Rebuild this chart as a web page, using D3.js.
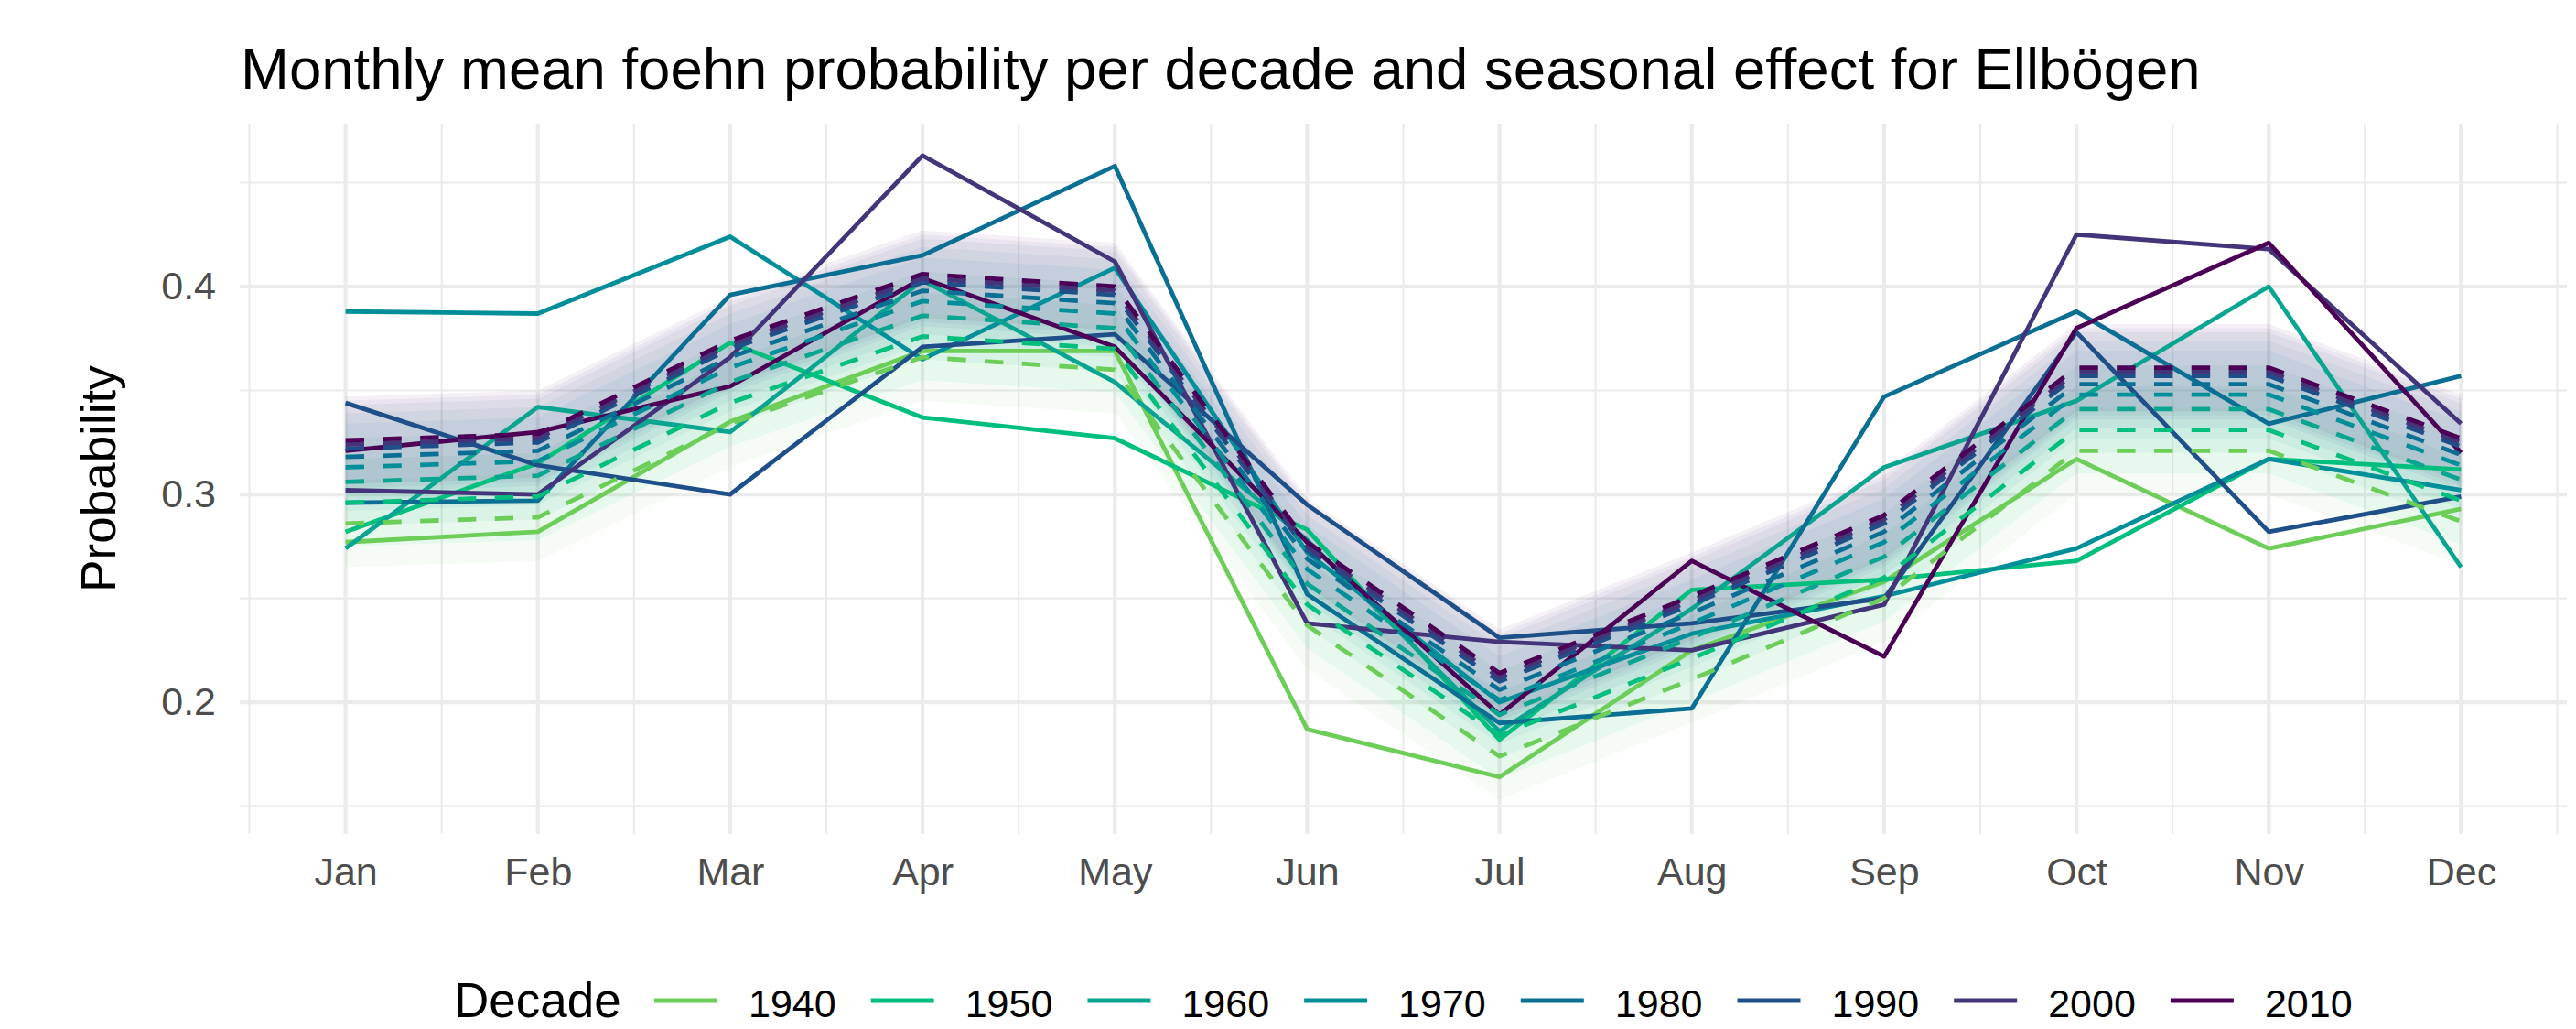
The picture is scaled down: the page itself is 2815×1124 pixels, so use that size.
<!DOCTYPE html>
<html>
<head>
<meta charset="utf-8">
<script src="https://cdn.jsdelivr.net/npm/d3@7"></script>
<style>
  body { margin: 0; background: #fff; }
  text { font-family: "Liberation Sans", Arial, Helvetica, sans-serif; }
</style>
</head>
<body>
<svg id="chart" width="2815" height="1124"></svg>
<script>
// x axis: months
const months = ['Jan', 'Feb', 'Mar', 'Apr', 'May', 'Jun', 'Jul', 'Aug', 'Sep', 'Oct', 'Nov', 'Dec'];

// legend / series
const decades = ['1940', '1950', '1960', '1970', '1980', '1990', '2000', '2010'];
const decadeColors = ['#6DCD59', '#00BF7D', '#0AA590', '#008F99', '#0A6F92', '#1F4F88', '#44357A', '#4B0055'];

// monthly mean foehn probability per decade (solid lines)
const obs1940 = [0.277, 0.282, 0.335, 0.369, 0.369, 0.187, 0.164, 0.225, 0.258, 0.317, 0.274, 0.293];
const obs1950 = [0.282, 0.315, 0.373, 0.337, 0.327, 0.283, 0.182, 0.254, 0.259, 0.268, 0.317, 0.312];
const obs1960 = [0.274, 0.342, 0.330, 0.403, 0.354, 0.278, 0.186, 0.245, 0.313, 0.345, 0.400, 0.265];
const obs1970 = [0.388, 0.387, 0.424, 0.365, 0.409, 0.272, 0.200, 0.233, 0.251, 0.274, 0.317, 0.302];
const obs1980 = [0.296, 0.297, 0.396, 0.415, 0.458, 0.252, 0.190, 0.197, 0.347, 0.388, 0.334, 0.357];
const obs1990 = [0.344, 0.314, 0.300, 0.371, 0.377, 0.295, 0.231, 0.238, 0.250, 0.378, 0.282, 0.299];
const obs2000 = [0.302, 0.300, 0.366, 0.463, 0.412, 0.238, 0.229, 0.225, 0.247, 0.425, 0.418, 0.334];
const obs2010 = [0.321, 0.330, 0.352, 0.404, 0.371, 0.277, 0.194, 0.268, 0.222, 0.380, 0.421, 0.320];

// seasonal effect per decade (dashed lines)
const eff1940 = [0.286, 0.289, 0.334, 0.366, 0.360, 0.237, 0.174, 0.211, 0.250, 0.321, 0.321, 0.287];
const eff1950 = [0.296, 0.299, 0.344, 0.376, 0.370, 0.247, 0.184, 0.221, 0.260, 0.331, 0.331, 0.297];
const eff1960 = [0.306, 0.309, 0.354, 0.386, 0.380, 0.257, 0.194, 0.231, 0.270, 0.341, 0.341, 0.307];
const eff1970 = [0.313, 0.316, 0.361, 0.393, 0.387, 0.264, 0.201, 0.238, 0.277, 0.348, 0.348, 0.314];
const eff1980 = [0.318, 0.321, 0.366, 0.398, 0.392, 0.269, 0.206, 0.243, 0.282, 0.353, 0.353, 0.319];
const eff1990 = [0.322, 0.325, 0.370, 0.402, 0.396, 0.273, 0.210, 0.247, 0.286, 0.357, 0.357, 0.323];
const eff2000 = [0.324, 0.327, 0.372, 0.404, 0.398, 0.275, 0.212, 0.249, 0.288, 0.359, 0.359, 0.325];
const eff2010 = [0.326, 0.329, 0.374, 0.406, 0.400, 0.277, 0.214, 0.251, 0.290, 0.361, 0.361, 0.327];

// half width of the uncertainty band around each seasonal effect
const ribbonHalfWidth = 0.021;

// y axis ticks
const yTicks = [0.2, 0.3, 0.4];
const yMinorTicks = [0.15, 0.25, 0.35, 0.45];

const observedList = [obs1940, obs1950, obs1960, obs1970, obs1980, obs1990, obs2000, obs2010];
const effectList = [eff1940, eff1950, eff1960, eff1970, eff1980, eff1990, eff2000, eff2010];

// one row per decade, just to keep things together
const series = decades.map((d, i) => ({
    decade: d,
    color: decadeColors[i],
    obs: observedList[i].map((v, m) => ({ month: m + 1, value: v })),
    eff: effectList[i].map((v, m) => ({ month: m + 1, value: v }))
}));

const svg = d3.select("#chart");

// panel area (ggplot style expansion already in the domains)
const panel = { left: 262, right: 2805, top: 135, bottom: 911 };

const x = d3.scaleLinear().domain([0.45, 12.55]).range([panel.left, panel.right]);
const y = d3.scaleLinear().domain([0.1366, 0.4784]).range([panel.bottom, panel.top]);

const lineWidth = 4.8;

const grid = svg.append("g").attr("class", "grid");

// minor grid first, thinner
grid.selectAll(".vminor")
    .data(d3.range(0.5, 13, 1))
    .enter().append("line")
    .attr("x1", d => x(d)).attr("x2", d => x(d))
    .attr("y1", panel.top).attr("y2", panel.bottom)
    .attr("stroke", "#EBEBEB").attr("stroke-width", 2.2);

grid.selectAll(".hminor")
    .data(yMinorTicks)
    .enter().append("line")
    .attr("x1", panel.left).attr("x2", panel.right)
    .attr("y1", d => y(d)).attr("y2", d => y(d))
    .attr("stroke", "#EBEBEB").attr("stroke-width", 2.2);

// major grid
grid.selectAll(".vmajor")
    .data(d3.range(1, 13))
    .enter().append("line")
    .attr("x1", d => x(d)).attr("x2", d => x(d))
    .attr("y1", panel.top).attr("y2", panel.bottom)
    .attr("stroke", "#EBEBEB").attr("stroke-width", 4.2);

grid.selectAll(".hmajor")
    .data(yTicks)
    .enter().append("line")
    .attr("x1", panel.left).attr("x2", panel.right)
    .attr("y1", d => y(d)).attr("y2", d => y(d))
    .attr("stroke", "#EBEBEB").attr("stroke-width", 4.2);

// ribbons (very transparent, they stack up into the blurry band)
const area = d3.area()
    .x(d => x(d.month))
    .y0(d => y(d.value - ribbonHalfWidth))
    .y1(d => y(d.value + ribbonHalfWidth));

svg.append("g").selectAll("path")
    .data(series)
    .enter().append("path")
    .attr("d", d => area(d.eff))
    .attr("fill", d => d.color)
    .attr("fill-opacity", 0.06)
    .attr("stroke", "none");

const line = d3.line()
    .x(d => x(d.month))
    .y(d => y(d.value));

// observed monthly means
svg.append("g").selectAll("path")
    .data(series)
    .enter().append("path")
    .attr("d", d => line(d.obs))
    .attr("fill", "none")
    .attr("stroke", d => d.color)
    .attr("stroke-width", lineWidth)
    .attr("stroke-linejoin", "round");

// seasonal effect, dashed
svg.append("g").selectAll("path")
    .data(series)
    .enter().append("path")
    .attr("d", d => line(d.eff))
    .attr("fill", "none")
    .attr("stroke", d => d.color)
    .attr("stroke-width", lineWidth)
    .attr("stroke-dasharray", "20.4,20.4")
    .attr("stroke-linejoin", "round");

// axes: labels only, no ticks and no domain line
const xAxis = svg.append("g")
    .attr("transform", `translate(0,${panel.bottom})`)
    .call(d3.axisBottom(x).tickValues(d3.range(1, 13)).tickFormat(i => months[i - 1]).tickSize(0).tickPadding(25));
xAxis.select(".domain").remove();
xAxis.selectAll("text")
    .attr("font-size", 43)
    .attr("fill", "#4D4D4D")
    .style("font-family", '"Liberation Sans", Arial, sans-serif');

const yAxis = svg.append("g")
    .attr("transform", `translate(${panel.left},0)`)
    .call(d3.axisLeft(y).tickValues(yTicks).tickFormat(d3.format(".1f")).tickSize(0).tickPadding(26));
yAxis.select(".domain").remove();
yAxis.selectAll("text")
    .attr("font-size", 43)
    .attr("fill", "#4D4D4D")
    .style("font-family", '"Liberation Sans", Arial, sans-serif');

// y axis title
svg.append("text")
    .attr("transform", `translate(126,${(panel.top + panel.bottom) / 2}) rotate(-90)`)
    .attr("text-anchor", "middle")
    .attr("font-size", 53)
    .attr("fill", "#000")
    .text("Probability");

// title
svg.append("text")
    .attr("x", 263)
    .attr("y", 97)
    .attr("font-size", 63.5)
    .attr("fill", "#000")
    .text("Monthly mean foehn probability per decade and seasonal effect for Ellbögen");

// legend at the bottom (nudged up a few px so the text box stays inside the picture)
const legendBaseline = 1111;
const legend = svg.append("g").attr("class", "legend");
legend.append("text")
    .attr("x", 496)
    .attr("y", legendBaseline)
    .attr("font-size", 53)
    .attr("fill", "#000")
    .text("Decade");

const legendItem = legend.selectAll(".item")
    .data(series)
    .enter().append("g")
    .attr("class", "item")
    .attr("transform", (d, i) => `translate(${715 + i * 236.7},0)`);

legendItem.append("line")
    .attr("x1", 0).attr("x2", 69)
    .attr("y1", legendBaseline - 18).attr("y2", legendBaseline - 18)
    .attr("stroke", d => d.color)
    .attr("stroke-width", 5);

legendItem.append("text")
    .attr("x", 103)
    .attr("y", legendBaseline)
    .attr("font-size", 43)
    .attr("fill", "#000")
    .text(d => d.decade);

console.log("chart drawn", series.length, "decades");
</script>
</body>
</html>
